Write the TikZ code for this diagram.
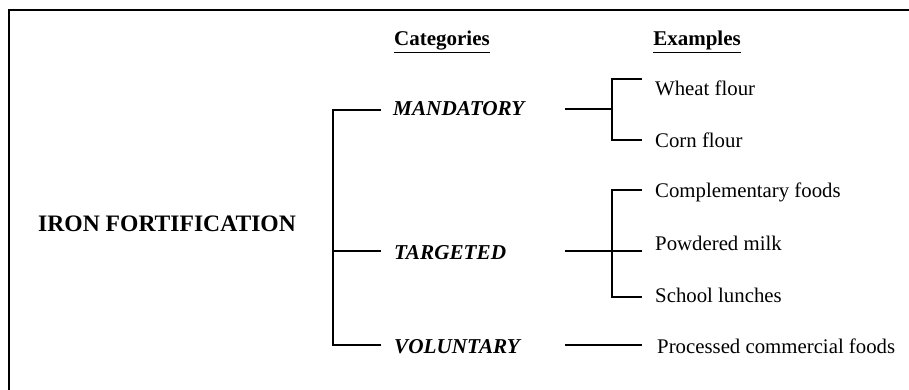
\documentclass[tikz,border=0pt]{standalone}
\usepackage{fontspec}
\setmainfont{Liberation Serif}
\begin{document}
\begin{tikzpicture}[x=1pt,y=-1pt,
  lbl/.style={anchor=base west,inner sep=0pt,font=\fontsize{20.8}{25}\selectfont},
  cat/.style={anchor=base west,inner sep=0pt,font=\fontsize{21.2}{25}\selectfont\bfseries\itshape},
  head/.style={anchor=base,inner sep=0pt,font=\fontsize{21}{25}\selectfont\bfseries},
  title/.style={anchor=base west,inner sep=0pt,font=\fontsize{23.6}{28}\selectfont\bfseries},
  conn/.style={line width=1.2pt},
  frame/.style={line width=2.6pt}]
\useasboundingbox (0,0) rectangle (909,390);
% frame (top and left edges only)
\draw[frame] (9,392) -- (9,10) -- (912,10);

% headers
\node[head] (hcat) at (442,46) {\underline{Categories}};
\node[head] (hex) at (697,46) {\underline{Examples}};

% root
\node[title] (iron) at (38,231) {IRON FORTIFICATION};

% categories
\node[cat] (mand) at (393,116) {MANDATORY};
\node[cat] (targ) at (394,259) {TARGETED};
\node[cat] (vol) at (394,353) {VOLUNTARY};

% examples
\node[lbl] (wheat) at (655,96) {Wheat flour};
\node[lbl] (corn) at (655,148) {Corn flour};
\node[lbl] (comp) at (655,197) {Complementary foods};
\node[lbl] (milk) at (655,250) {Powdered milk};
\node[lbl] (school) at (655,302) {School lunches};
\node[lbl] (proc) at (657,353) {Processed commercial foods};

% left bracket
\coordinate (trunkT) at (333,110);
\coordinate (trunkM) at (333,251);
\coordinate (trunkB) at (333,345);
\coordinate (mandIn) at (381,110);
\coordinate (targIn) at (381,251);
\coordinate (volIn) at (381,345);
\draw[conn] (mandIn) -- (trunkT) -- (trunkB) -- (volIn);
\draw[conn] (trunkM) -- (targIn);

% mandatory bracket
\coordinate (mandOut) at (565,109);
\coordinate (mbr) at (612,109);
\coordinate (mbrT) at (612,79);
\coordinate (mbrB) at (612,140);
\coordinate (wheatIn) at (642,79);
\coordinate (cornIn) at (642,140);
\draw[conn] (mandOut) -- (mbr);
\draw[conn] (wheatIn) -- (mbrT) -- (mbrB) -- (cornIn);

% targeted bracket
\coordinate (targOut) at (565,251);
\coordinate (milkIn) at (642,251);
\coordinate (tbrT) at (612,190);
\coordinate (tbrB) at (612,297);
\coordinate (compIn) at (642,190);
\coordinate (schIn) at (642,297);
\draw[conn] (targOut) -- (milkIn);
\draw[conn] (compIn) -- (tbrT) -- (tbrB) -- (schIn);

% voluntary
\coordinate (volOut) at (565,345);
\coordinate (procIn) at (642,345);
\draw[conn] (volOut) -- (procIn);
\end{tikzpicture}
\end{document}
